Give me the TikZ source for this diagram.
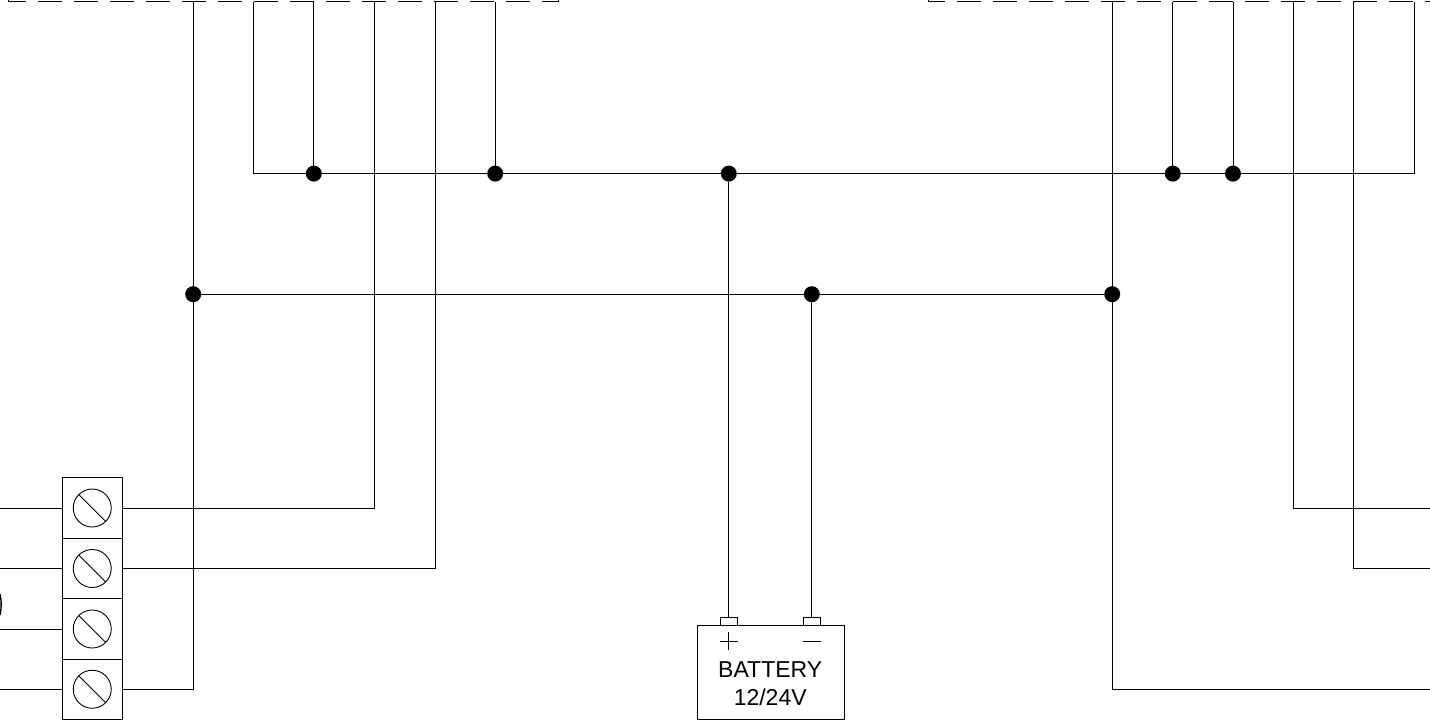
\documentclass[tikz,border=0pt]{standalone}
\usepackage{fontspec}
\setmainfont{Liberation Sans}
\tikzset{
  px/.style={x=1pt,y=-1pt},
  wire/.style={draw=black,line width=1pt},
  dashwire/.style={draw=black,line width=1pt,dash pattern=on 24pt off 12pt},
  dotj/.style={circle,fill=black,draw=none,minimum size=16pt,inner sep=0pt,outer sep=0pt},
  cell/.style={rectangle,draw=black,line width=1pt,fill=white,minimum width=60.5pt,minimum height=60.5pt,inner sep=0pt,outer sep=0pt},
  screw/.style={circle,draw=black,line width=0.9pt,minimum size=38pt,inner sep=0pt,outer sep=0pt},
  post/.style={rectangle,draw=black,line width=1pt,fill=white,minimum width=16.5pt,minimum height=8pt,inner sep=0pt,outer sep=0pt},
  batt/.style={rectangle,draw=black,line width=1pt,fill=white,minimum width=147pt,minimum height=94.5pt,inner sep=0pt,outer sep=0pt},
  lbl/.style={inner sep=0pt,outer sep=0pt,font=\fontsize{23}{25}\selectfont,anchor=base}
}
\begin{document}
\begin{tikzpicture}[px]
\useasboundingbox (0,0) rectangle (1430,720);
% top coordinates of wires
\foreach \n/\x in {a/193,b/253.5,c/313.8,d/374.5,e/435,f/495.2,g/1112,h/1172.8,i/1233,j/1293.6,k/1353.8,l/1414.6}
  \coordinate (t\n) at (\x,1.7);
% dashed outlines
\coordinate (ll) at (8.5,-2); \coordinate (lc) at (8.5,1.7);
\coordinate (ls) at (2,1.7); \coordinate (le) at (558,1.7); \coordinate (lu) at (558,-2);
\coordinate (rs) at (921,1.7); \coordinate (rc) at (928,1.7); \coordinate (ru) at (928,-2); \coordinate (re) at (1430,1.7);
\begin{scope}
\clip (8.5,-3) rectangle (558,3);
\draw[dashwire] (ls) -- (le);
\end{scope}
\begin{scope}
\clip (928,-3) rectangle (1430,3);
\draw[dashwire] (rs) -- (re);
\end{scope}
\draw[wire] (ll) -- (lc);
\draw[wire] (lu) -- (le);
\draw[wire] (ru) -- (rc);
% terminal block
\node[cell] (c1) at (92.25,508) {};
\node[cell] (c2) at (92.25,568.5) {};
\node[cell] (c3) at (92.25,629) {};
\node[cell] (c4) at (92.25,689.25) {};
\foreach \i in {1,2,3,4}{
  \node[screw] (s\i) at (c\i) {};
  \draw[line width=0.9pt] (s\i.135) -- (s\i.-45);
}
% left stubs
\foreach \i in {1,2,3,4}{
  \coordinate (w\i) at (0,0 |- c\i);
  \draw[wire] (w\i) -- (c\i.west);
}
% small arc at left edge
\coordinate (arcs) at (0,594);
\coordinate (arce) at (0,615);
\draw[line width=1.4pt] (arcs) .. controls (1.6,600) and (1.6,609) .. (arce);
% junctions
\node[dotj] (j1) at (313.8,173.6) {};
\node[dotj] (j2) at (495.2,173.6) {};
\node[dotj] (j3) at (728.8,173.6) {};
\node[dotj] (j4) at (1172.8,173.6) {};
\node[dotj] (j5) at (1233,173.6) {};
\node[dotj] (m1) at (193.2,294.2) {};
\node[dotj] (m2) at (811.8,294.2) {};
\node[dotj] (m3) at (1112.2,294.2) {};
% battery
\node[batt] (bat) at (770.5,672.25) {};
\node[post] (pp) at (728.8,621) {};
\node[post] (pm) at (811.8,621) {};
\draw[line width=0.9pt] (719.8,641) -- (737.8,641);
\draw[line width=0.9pt] (728.8,632) -- (728.8,650);
\draw[line width=0.9pt] (802.8,641) -- (820.8,641);
\node[lbl] (t1) at (770.2,677.5) {BATTERY};
\node[lbl] (t2) at (770.2,705.5) {12/24V};
% wires
\draw[wire] (tb) -- (tb |- j1) -- (tl |- j1) -- (tl);
\draw[wire] (tc) -- (j1);
\draw[wire] (tf) -- (j2);
\draw[wire] (th) -- (j4);
\draw[wire] (ti) -- (j5);
\draw[wire] (m1) -- (m3);
\draw[wire] (j3) -- (pp.north);
\draw[wire] (m2) -- (pm.north);
\draw[wire] (td) -- (td |- c1) -- (c1.east);
\draw[wire] (te) -- (te |- c2) -- (c2.east);
\draw[wire] (ta) -- (ta |- c4) -- (c4.east);
\coordinate (r1) at (1430,508);
\coordinate (r2) at (1430,568.5);
\coordinate (r4) at (1430,689);
\draw[wire] (tj) -- (tj |- r1) -- (r1);
\draw[wire] (tk) -- (tk |- r2) -- (r2);
\draw[wire] (tg) -- (tg |- r4) -- (r4);
\end{tikzpicture}
\end{document}
